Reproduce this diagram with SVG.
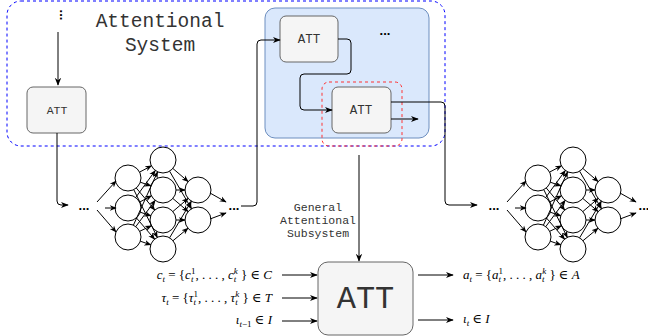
<svg xmlns="http://www.w3.org/2000/svg" width="648" height="336" viewBox="0 0 648 336">
<style>
.att{fill:#f5f5f5;stroke:#666;stroke-width:1}
.mono{font-family:"Liberation Mono","Courier New",monospace;fill:#333}
.c{fill:#fff;stroke:#000;stroke-width:1}
.e{fill:none;stroke:#000;stroke-width:1;marker-end:url(#ah)}
.en{fill:none;stroke:#000;stroke-width:1;marker-end:url(#ahs)}
.dots{font-family:"Liberation Sans",Arial,sans-serif;font-weight:bold;font-size:13px;fill:#000}
.m{font-family:"Liberation Serif","DejaVu Serif",serif;font-size:13px;fill:#000}
.i{font-style:italic}
.s{font-size:9px}
</style>
<defs>
<marker id="ah" viewBox="0 0 10 10" refX="9" refY="5" markerWidth="8" markerHeight="8" markerUnits="userSpaceOnUse" orient="auto"><path d="M0,1 L10,5 L0,9 L3,5 z" fill="#000"/></marker>
<marker id="ahs" viewBox="0 0 10 10" refX="9" refY="5" markerWidth="7" markerHeight="7" markerUnits="userSpaceOnUse" orient="auto"><path d="M0,1 L10,5 L0,9 L3,5 z" fill="#000"/></marker>
</defs>

<g id="attentional-system">
<rect x="7" y="1" width="438" height="145" rx="14" fill="none" stroke="#0000ff" stroke-dasharray="3 3"/>
<text class="mono" font-size="19.5" text-anchor="middle" x="160" y="27">Attentional</text>
<text class="mono" font-size="19.5" text-anchor="middle" x="160" y="51">System</text>
</g>

<g id="subsystem-box">
<rect x="265" y="8" width="164" height="130" rx="10" fill="#dae8fc" stroke="#6c8ebf"/>
<text class="dots" x="385" y="35" text-anchor="middle">...</text>
</g>

<g id="vdots">
<text class="dots" x="0" y="0" text-anchor="middle" transform="translate(60,15) rotate(90)">...</text>
</g>

<g id="att-left">
<rect class="att" x="27" y="87" width="59" height="46" rx="6"/>
<text class="mono" font-size="11.5" text-anchor="middle" x="57" y="114">ATT</text>
</g>

<g id="att-1">
<rect class="att" x="280" y="16" width="58" height="46" rx="6"/>
<text class="mono" font-size="12.5" text-anchor="middle" x="309" y="43">ATT</text>
</g>

<g id="att-2">
<rect class="att" x="332" y="87" width="59" height="46" rx="6"/>
<text class="mono" font-size="12.5" text-anchor="middle" x="361" y="114">ATT</text>
</g>

<g id="general-subsystem">
<rect x="322" y="82" width="80" height="64" rx="7" fill="none" stroke="#ff3333" stroke-dasharray="3 3"/>
</g>

<g id="net-1">
<text class="dots" x="84" y="210" text-anchor="middle">...</text>
<g class="c">
<circle cx="128" cy="178" r="13"/><circle cx="128" cy="208" r="13"/><circle cx="128" cy="237" r="13"/>
<circle cx="163" cy="160" r="13"/><circle cx="163" cy="190" r="13"/><circle cx="163" cy="220" r="13"/><circle cx="163" cy="249" r="13"/>
<circle cx="198" cy="190" r="13"/><circle cx="198" cy="220" r="13"/>
</g>
<g class="en">
<path d="M97,202 L116,181"/><path d="M105,208 L116,208"/><path d="M97,210 L116,232"/>
<path d="M139.6,172.1 L151.4,165.9"/><path d="M140.3,182.2 L150.7,185.8"/><path d="M136.3,188 L154.7,210"/><path d="M133.8,189.7 L157.3,237.3"/>
<path d="M135.7,197.5 L155.3,170.5"/><path d="M139.6,202.1 L151.4,195.9"/><path d="M140.3,212.2 L150.7,215.8"/><path d="M136.4,217.9 L154.6,239.1"/>
<path d="M133.4,225.2 L157.6,171.8"/><path d="M135.8,226.6 L155.2,200.4"/><path d="M139.7,231.3 L151.3,225.7"/><path d="M140.3,241.2 L150.7,244.8"/>
<path d="M172.9,168.5 L188.1,181.5"/><path d="M169.6,171.2 L191.5,208.8"/><path d="M176,190 L185,190"/><path d="M172.9,198.5 L188.1,211.5"/>
<path d="M172.9,211.5 L188.1,198.5"/><path d="M176,220 L185,220"/><path d="M169.6,237.8 L191.4,201.2"/><path d="M173,240.7 L188,228.3"/>
<path d="M210,193 L226,202"/><path d="M210,219 L226,213"/>
</g>
<text class="dots" x="234" y="210" text-anchor="middle">...</text>
</g>

<g id="net-2" transform="translate(410,0)">
<text class="dots" x="84" y="210" text-anchor="middle">...</text>
<g class="c">
<circle cx="128" cy="178" r="13"/><circle cx="128" cy="208" r="13"/><circle cx="128" cy="237" r="13"/>
<circle cx="163" cy="160" r="13"/><circle cx="163" cy="190" r="13"/><circle cx="163" cy="220" r="13"/><circle cx="163" cy="249" r="13"/>
<circle cx="198" cy="190" r="13"/><circle cx="198" cy="220" r="13"/>
</g>
<g class="en">
<path d="M97,202 L116,181"/><path d="M105,208 L116,208"/><path d="M97,210 L116,232"/>
<path d="M139.6,172.1 L151.4,165.9"/><path d="M140.3,182.2 L150.7,185.8"/><path d="M136.3,188 L154.7,210"/><path d="M133.8,189.7 L157.3,237.3"/>
<path d="M135.7,197.5 L155.3,170.5"/><path d="M139.6,202.1 L151.4,195.9"/><path d="M140.3,212.2 L150.7,215.8"/><path d="M136.4,217.9 L154.6,239.1"/>
<path d="M133.4,225.2 L157.6,171.8"/><path d="M135.8,226.6 L155.2,200.4"/><path d="M139.7,231.3 L151.3,225.7"/><path d="M140.3,241.2 L150.7,244.8"/>
<path d="M172.9,168.5 L188.1,181.5"/><path d="M169.6,171.2 L191.5,208.8"/><path d="M176,190 L185,190"/><path d="M172.9,198.5 L188.1,211.5"/>
<path d="M172.9,211.5 L188.1,198.5"/><path d="M176,220 L185,220"/><path d="M169.6,237.8 L191.4,201.2"/><path d="M173,240.7 L188,228.3"/>
<path d="M210,193 L226,202"/><path d="M210,219 L226,213"/>
</g>
<text class="dots" x="234" y="210" text-anchor="middle">...</text>
</g>

<g id="general-label">
<text class="mono" font-size="11.5" fill="#444" text-anchor="middle" x="318" y="211">General</text>
<text class="mono" font-size="11.5" fill="#444" text-anchor="middle" x="318" y="224">Attentional</text>
<text class="mono" font-size="11.5" fill="#444" text-anchor="middle" x="318" y="237">Subsystem</text>
</g>

<g id="att-big">
<rect class="att" x="318" y="262" width="95" height="73" rx="10"/>
<text class="mono" font-size="32" text-anchor="middle" x="365.5" y="308">ATT</text>
</g>

<g id="inputs">
<text class="m" x="272" y="279" text-anchor="end"><tspan class="i">c</tspan><tspan class="i s" dy="2.5">t</tspan><tspan dy="-2.5"> = {</tspan><tspan class="i">c</tspan><tspan class="i s" dy="2.5">t</tspan><tspan class="s" dx="-2.5" dy="-7.5">1</tspan><tspan dy="5">, . . . , </tspan><tspan class="i">c</tspan><tspan class="i s" dy="2.5">t</tspan><tspan class="i s" dx="-2.5" dy="-7.5">k</tspan><tspan dy="5"> } ∈ </tspan><tspan class="i">C</tspan></text>
<text class="m" x="272" y="302" text-anchor="end"><tspan class="i">τ</tspan><tspan class="i s" dy="2.5">t</tspan><tspan dy="-2.5"> = {</tspan><tspan class="i">τ</tspan><tspan class="i s" dy="2.5">t</tspan><tspan class="s" dx="-2.5" dy="-7.5">1</tspan><tspan dy="5">, . . . , </tspan><tspan class="i">τ</tspan><tspan class="i s" dy="2.5">t</tspan><tspan class="i s" dx="-2.5" dy="-7.5">k</tspan><tspan dy="5"> } ∈ </tspan><tspan class="i">T</tspan></text>
<text class="m" x="272" y="324" text-anchor="end"><tspan class="i">ι</tspan><tspan class="s" dy="2.5"><tspan class="i">t</tspan>−1</tspan><tspan dy="-2.5"> ∈ </tspan><tspan class="i">I</tspan></text>
</g>

<g id="outputs">
<text class="m" x="463" y="279"><tspan class="i">a</tspan><tspan class="i s" dy="2.5">t</tspan><tspan dy="-2.5"> = {</tspan><tspan class="i">a</tspan><tspan class="i s" dy="2.5">t</tspan><tspan class="s" dx="-2.5" dy="-7.5">1</tspan><tspan dy="5">, . . . , </tspan><tspan class="i">a</tspan><tspan class="i s" dy="2.5">t</tspan><tspan class="i s" dx="-2.5" dy="-7.5">k</tspan><tspan dy="5"> } ∈ </tspan><tspan class="i">A</tspan></text>
<text class="m" x="463" y="323"><tspan class="i">ι</tspan><tspan class="i s" dy="2.5">t</tspan><tspan dy="-2.5"> ∈ </tspan><tspan class="i">I</tspan></text>
</g>

<g id="connectors">
<path class="e" d="M58,32 V85"/>
<path class="e" d="M57,133 V201 Q57,205 61,205 H68"/>
<path class="e" d="M241,206 H253 Q257,206 257,202 V44 Q257,40 261,40 H280"/>
<path class="e" d="M338,39 H347 Q351,39 351,43 V70 Q351,74 347,74 H304 Q300,74 300,78 V106 Q300,110 304,110 H332"/>
<path class="e" d="M391,119 H418"/>
<path class="e" d="M391,102 H441 Q445,102 445,106 V201 Q445,205 449,205 H477"/>
<path class="e" d="M359,155 V261"/>
<path class="e" d="M282,275 H317"/>
<path class="e" d="M282,298 H317"/>
<path class="e" d="M282,321 H317"/>
<path class="e" d="M418,275 H453"/>
<path class="e" d="M418,320 H453"/>
</g>
</svg>
